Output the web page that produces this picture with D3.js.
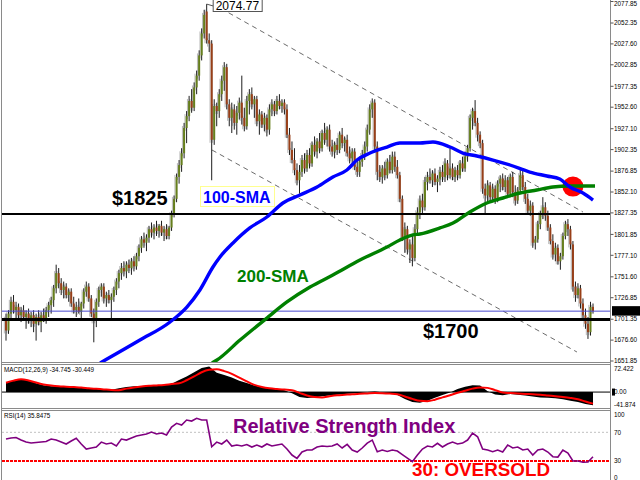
<!DOCTYPE html>
<html><head><meta charset="utf-8">
<script src="https://cdn.jsdelivr.net/npm/d3@7"></script>
<style>html,body{margin:0;padding:0;background:#fff;}svg{display:block;}</style>
</head><body>
<svg id="c" width="640" height="480"></svg>
<script>
// ---- candle data (daily bars) ----
const opens = [
1702,1688,1708,1722,1712,1716,1706,1712,1704,1708,
1700,1706,1696,1704,1698,1706,1702,1712,1718,1724,
1738,1756,1744,1736,1740,1730,1734,1720,1712,1716,
1710,1720,1734,1740,1726,1708,1700,1722,1736,1740,
1726,1730,1724,1728,1736,1746,1756,1762,1758,1766,
1762,1770,1764,1776,1786,1796,1792,1798,1808,1804,
1810,1806,1812,1804,1808,1800,1810,1826,1844,1870,
1884,1898,1928,1942,1960,1952,1976,1990,2014,2040,
2066,2032,2028,1914,1954,1948,1968,1984,2000,1956,
1940,1950,1934,1946,1958,1940,1930,1960,1968,1956,
1962,1936,1944,1932,1940,1926,1950,1956,1948,1960,
1954,1958,1950,1920,1902,1890,1878,1866,1876,1890,
1880,1896,1886,1908,1900,1912,1904,1922,1914,1926,
1906,1900,1908,1902,1920,1910,1914,1898,1892,1900,
1882,1876,1888,1896,1906,1926,1950,1958,1906,1876,
1870,1880,1872,1888,1878,1894,1882,1872,1844,1798,
1808,1784,1790,1774,1808,1828,1842,1834,1864,1870,
1866,1874,1864,1868,1876,1870,1886,1872,1880,1870,
1878,1872,1886,1880,1894,1904,1940,1948,1934,1920,
1910,1856,1848,1860,1846,1856,1844,1862,1868,1858,
1866,1850,1870,1852,1842,1854,1872,1858,1844,1830,
1836,1792,1796,1814,1826,1834,1824,1810,1794,1778,
1786,1770,1776,1800,1814,1808,1790,1740,1730,1738,
1720,1706,1696,1686,1716];
const highs = [
1708,1712,1728,1730,1722,1720,1716,1718,1712,1714,
1710,1712,1708,1712,1710,1714,1716,1722,1728,1742,
1766,1762,1750,1746,1744,1738,1738,1728,1722,1726,
1722,1738,1746,1744,1730,1714,1726,1740,1744,1744,
1734,1736,1732,1740,1750,1760,1768,1770,1770,1772,
1774,1776,1780,1790,1800,1804,1802,1812,1816,1814,
1818,1814,1818,1812,1814,1812,1830,1848,1874,1890,
1904,1934,1948,1966,1974,1982,1996,2020,2046,2068,
2074.77,2040,2032,1962,1958,1974,1990,2006,2004,1962,
1958,1956,1954,1964,1990,1952,1966,1974,1976,1966,
1966,1950,1948,1946,1944,1956,1962,1960,1966,1968,
1962,1962,1956,1928,1912,1904,1886,1884,1896,1898,
1902,1904,1912,1918,1916,1922,1926,1934,1930,1932,
1914,1912,1916,1924,1928,1918,1920,1906,1904,1904,
1890,1894,1902,1912,1932,1956,1963,1962,1912,1884,
1884,1888,1892,1896,1900,1900,1890,1876,1848,1816,
1812,1796,1800,1814,1834,1848,1850,1870,1876,1880,
1878,1880,1872,1882,1884,1892,1890,1904,1886,1882,
1884,1890,1894,1900,1908,1944,1952,1961,1940,1924,
1914,1862,1866,1864,1862,1860,1866,1872,1874,1872,
1870,1874,1876,1860,1858,1880,1878,1864,1850,1842,
1840,1800,1818,1830,1846,1840,1830,1814,1802,1792,
1790,1780,1804,1818,1820,1812,1794,1746,1744,1742,
1726,1714,1704,1722,1720];
const lows = [
1676,1684,1702,1708,1700,1702,1698,1700,1690,1696,
1692,1686,1676,1694,1686,1698,1696,1704,1708,1716,
1732,1738,1730,1726,1726,1722,1716,1708,1704,1708,
1702,1714,1728,1722,1704,1674,1692,1716,1728,1720,
1716,1720,1700,1722,1730,1738,1748,1752,1750,1756,
1754,1758,1760,1770,1780,1786,1782,1792,1798,1796,
1800,1798,1800,1794,1796,1796,1806,1822,1840,1862,
1876,1892,1910,1936,1946,1948,1968,1984,2008,2034,
2028,2018,1866,1908,1930,1940,1960,1972,1950,1930,
1922,1926,1920,1938,1932,1924,1926,1944,1950,1940,
1930,1920,1928,1924,1918,1920,1942,1942,1944,1950,
1946,1944,1916,1896,1886,1872,1860,1850,1870,1874,
1876,1880,1882,1894,1892,1898,1900,1908,1906,1900,
1894,1892,1896,1898,1904,1900,1894,1886,1886,1878,
1870,1870,1882,1890,1900,1920,1940,1900,1866,1864,
1862,1866,1868,1874,1874,1876,1868,1840,1794,1780,
1778,1768,1764,1770,1800,1820,1826,1830,1854,1862,
1858,1860,1852,1860,1864,1864,1866,1868,1866,1864,
1866,1868,1876,1876,1888,1900,1926,1930,1912,1904,
1850,1826,1840,1840,1840,1838,1840,1852,1854,1852,
1846,1846,1846,1836,1838,1850,1854,1838,1826,1824,
1786,1784,1792,1808,1820,1818,1806,1790,1772,1770,
1766,1760,1772,1796,1800,1784,1734,1722,1726,1714,
1700,1690,1678,1682,1708];
const closes = [
1688,1708,1722,1712,1716,1706,1712,1704,1708,1700,
1706,1696,1704,1698,1706,1702,1712,1718,1724,1738,
1756,1744,1736,1740,1730,1734,1720,1712,1716,1710,
1720,1734,1740,1726,1708,1700,1722,1736,1740,1726,
1730,1724,1728,1736,1746,1756,1762,1758,1766,1762,
1770,1764,1776,1786,1796,1792,1798,1808,1804,1810,
1806,1812,1804,1808,1800,1810,1826,1844,1870,1884,
1898,1928,1942,1960,1952,1976,1990,2014,2040,2062,
2032,2028,1914,1954,1948,1968,1984,2000,1956,1940,
1950,1934,1946,1958,1940,1930,1960,1968,1956,1962,
1936,1944,1932,1940,1926,1950,1956,1948,1960,1954,
1958,1950,1920,1902,1890,1878,1866,1876,1890,1880,
1896,1886,1908,1900,1912,1904,1922,1914,1926,1906,
1900,1908,1902,1920,1910,1914,1898,1892,1900,1882,
1876,1888,1896,1906,1926,1950,1958,1906,1876,1870,
1880,1872,1888,1878,1894,1882,1872,1844,1798,1808,
1784,1790,1774,1808,1828,1842,1834,1864,1870,1866,
1874,1864,1868,1876,1870,1886,1872,1880,1870,1878,
1872,1886,1880,1894,1904,1940,1948,1934,1920,1910,
1856,1848,1860,1846,1856,1844,1862,1868,1858,1866,
1850,1870,1852,1842,1854,1872,1858,1844,1830,1836,
1792,1796,1814,1826,1834,1824,1810,1794,1778,1786,
1770,1776,1800,1814,1808,1790,1740,1730,1738,1720,
1706,1696,1686,1716,1710.92];

// ---- moving averages (bar index, value) ----
const sma100Idx = [37.5,53.4,65.4,72.1,77.3,82.5,85.3,90.5,97.2,104,110.4,117.2,124,130.3,135.9,139.9,145.1,151.9,157,165,170.2,177,182.1,187.7,194.1,200.9,208.8,215.6,220.8,224.8,230,234];
const sma100Val = [1649.5,1676.7,1698.1,1715.8,1736.0,1763.2,1775.1,1791.7,1809.5,1822.5,1839.1,1848.6,1858.0,1869.9,1878.2,1890.0,1898.3,1905.4,1910.2,1910.2,1911.4,1905.4,1898.3,1894.8,1890.0,1884.1,1875.8,1871.1,1867.5,1858.0,1850.9,1842.6];
const sma200Idx = [82.1,84.1,93.3,104.0,112.0,121.2,130.3,141.1,151.9,157.0,162.2,165.0,173.0,178.2,184.9,191.7,198.1,204.9,211.6,218.0,224.8,234.8];
const sma200Val = [1649.5,1653.0,1676.7,1702.8,1721.8,1739.5,1753.7,1771.5,1786.9,1795.2,1801.2,1802.3,1809.5,1815.4,1828.4,1839.1,1845.0,1850.9,1854.5,1858.0,1859.2,1859.2];

// ---- MACD (sampled every 3 bars) ----
const macdHist = [23.6,31,34.5,31,23,18,15,15,15,14,12,10.5,8,6,6,10,13,15,16,17,18,19,22,32,41,52,63,67,51,45,38,30,23.6,17,12.5,10,8,5,-3,-13,-15.5,-14,-11,-9,-7,-5.3,-4,-2.6,0,1.6,-0.5,-2.6,-8,-18,-26,-28,-23,-15,-8,-1,8,14,18,17,2,-6.5,-8.5,-5.3,-7,-9,-11.5,-14.2,-15,-16,-19,-22.5,-26,-31.5,-34.745];
const macdSignal = [24.5,30,33.5,30.5,25,20,17,15,14,13,12,10,8.5,7,5.5,5,9,12,14.5,16.5,17.5,18.7,21,23,31,41,52,58.5,60,55,48,38,28,19,13.5,10,8,6.5,5,-2,-9,-13,-14,-11,-8.5,-7,-5.5,-4.5,-3.5,-2.6,-3,-4,-5.5,-11.6,-18,-23,-24,-20,-14,-8.5,-2,3.5,9,12,11,5,-1,-2.6,-4,-5,-5.5,-7,-9,-11,-13,-15.5,-19,-25,-30.449];

// ---- RSI(14) (sampled every 2 bars) ----
const rsiValues = [60.6,62,62.7,59.2,56.4,55,55.7,56.4,57.1,60.6,59.2,56.4,53.7,57.8,61.6,53.7,46.7,48.1,49.5,56.4,53.7,55,50.9,60.6,59.2,62,64.8,66.2,67.6,70.4,67.6,69,66.2,77.4,82.5,80.1,87.1,85.7,89.5,87.1,87.1,49.9,56.4,53.7,59.2,50.9,52.3,50.9,53,49.5,52.3,49.5,53.7,50.9,52.3,53.7,46.7,38.3,33.7,42.5,45.3,45.3,49.5,50.9,50.2,50.9,53.7,48.1,53.2,45.3,42.5,48.1,55,59.2,42.9,45.3,43.2,45.3,43.9,39,34.1,29,38.3,46.7,50.9,49.5,54.6,49.5,53.7,56.4,53.7,55,59.2,69,63.8,46.7,45.3,42.9,45.3,42.5,52.3,48.1,49.5,45.3,46.7,38.3,45.3,46.7,42.5,36,35.5,45.3,41.1,30,30,28.2,28.6,35.85];

// ---- axes / annotations ----
const priceTicks = [2077.85,2052.35,2027.60,2002.85,1977.35,1952.60,1927.10,1902.35,1876.85,1852.10,1827.35,1801.85,1777.10,1751.60,1726.85,1701.35,1676.60,1651.85];
const macdTicks = [72.422, 0, -41.874];
const rsiTicks = [100, 70, 30, 0];
const supportLevels = [1826, 1701];
const lastPrice = 1710.92;
const peakIdx = 80, peakPrice = 2074.77;
const channelUpper = [[82.5, 2074.9], [230, 1828.4]];
const channelLower = [[82.1, 1901.9], [227.6, 1662.5]];
const crossIdx = 226, crossPrice = 1858.5;

// ---------------------------------------------------------------
const svg = d3.select('#c');
const FONT = '"Liberation Sans", Arial, sans-serif';
const N = Math.min(opens.length, highs.length, lows.length, closes.length);
const LEFT = 2, RIGHT = 610.5;
const xS = d3.scaleLinear().domain([0, 234]).range([6, 593]);
const yP = d3.scaleLinear().domain([1651.85, 2077.85]).range([361, 1.5]);
const yM = d3.scaleLinear().domain([-41.874, 72.422]).range([408, 364.5]);
const yR = d3.scaleLinear().domain([0, 100]).range([482.5, 410.8]);

const defs = svg.append('defs');
defs.append('clipPath').attr('id','clipMain').append('rect').attr('x',LEFT).attr('y',0).attr('width',RIGHT-LEFT).attr('height',362);
defs.append('clipPath').attr('id','clipMacd').append('rect').attr('x',LEFT).attr('y',364.5).attr('width',RIGHT-LEFT).attr('height',43.5);
defs.append('clipPath').attr('id','clipRsi').append('rect').attr('x',LEFT).attr('y',410.5).attr('width',RIGHT-LEFT).attr('height',70);

svg.append('rect').attr('width',640).attr('height',480).attr('fill','#fff');

// ---- main panel ----
const gMain = svg.append('g').attr('clip-path','url(#clipMain)');

// channel lines
[channelUpper, channelLower].forEach(c => {
  gMain.append('line')
    .attr('x1', xS(c[0][0])).attr('y1', yP(c[0][1]))
    .attr('x2', xS(c[1][0])).attr('y2', yP(c[1][1]))
    .attr('stroke','#5a5a5a').attr('stroke-width',0.9).attr('stroke-dasharray','5,4');
});

// candles
const idx = d3.range(N);
const bull = i => closes[i] >= opens[i];
gMain.append('g').selectAll('rect').data(idx).join('rect')
  .attr('x', i => xS(i) - 2.2).attr('width', 1.1)
  .attr('y', i => yP(Math.max(opens[i], closes[i])) - 2)
  .attr('height', i => Math.abs(yP(opens[i]) - yP(closes[i])) + 5)
  .attr('fill', '#bdbdbd');
gMain.append('g').selectAll('line').data(idx).join('line')
  .attr('x1', i => xS(i)).attr('x2', i => xS(i))
  .attr('y1', i => yP(highs[i])).attr('y2', i => yP(lows[i]))
  .attr('stroke', '#1e1e1e').attr('stroke-width', 1);
gMain.append('g').selectAll('rect').data(idx).join('rect')
  .attr('x', i => xS(i) - 1).attr('width', 2)
  .attr('y', i => yP(Math.max(opens[i], closes[i])))
  .attr('height', i => Math.max(1, Math.abs(yP(opens[i]) - yP(closes[i]))))
  .attr('fill', i => bull(i) ? '#667f1c' : '#983f18');

// horizontal levels
gMain.append('line').attr('x1',LEFT).attr('x2',RIGHT).attr('y1',yP(lastPrice)).attr('y2',yP(lastPrice))
  .attr('stroke','#4a4ad0').attr('stroke-width',1);
gMain.append('line').attr('x1',LEFT).attr('x2',RIGHT).attr('y1',yP(supportLevels[0])).attr('y2',yP(supportLevels[0]))
  .attr('stroke','#000').attr('stroke-width',2);
gMain.append('line').attr('x1',LEFT).attr('x2',RIGHT).attr('y1',yP(supportLevels[1])).attr('y2',yP(supportLevels[1]))
  .attr('stroke','#000').attr('stroke-width',3.2);

// crossover marker
gMain.append('ellipse').attr('cx', xS(crossIdx)).attr('cy', yP(crossPrice)).attr('rx',10.5).attr('ry',10)
  .attr('fill','#f00');

// moving averages
const smaLine = d3.line().x(d => xS(d[0])).y(d => yP(d[1])).curve(d3.curveMonotoneX);
gMain.append('path').attr('d', smaLine(d3.zip(sma200Idx, sma200Val)))
  .attr('fill','none').attr('stroke','#008000').attr('stroke-width',3.4);
gMain.append('path').attr('d', smaLine(d3.zip(sma100Idx, sma100Val)))
  .attr('fill','none').attr('stroke','#0000ff').attr('stroke-width',3.4);

// peak label
const px = xS(peakIdx), py = yP(peakPrice);
svg.append('line').attr('x1',px).attr('y1',py).attr('x2',px+7).attr('y2',py+2).attr('stroke','#555').attr('stroke-width',1);
svg.append('rect').attr('x',px+6.5).attr('y',-1).attr('width',49).attr('height',12.5)
  .attr('fill','#fff').attr('stroke','#555').attr('stroke-width',1);
svg.append('text').attr('x',px+9).attr('y',9.8).attr('font-family',FONT).attr('font-size',12)
  .attr('fill','#000').text(peakPrice.toFixed(2));

// annotations
svg.append('text').attr('x',112).attr('y',205).attr('font-family',FONT).attr('font-weight','bold')
  .attr('font-size',20).attr('fill','#000').text('$1825');
svg.append('text').attr('x',423).attr('y',338).attr('font-family',FONT).attr('font-weight','bold')
  .attr('font-size',20).attr('fill','#000').text('$1700');
svg.append('rect').attr('x',200.5).attr('y',186.5).attr('width',74).attr('height',20)
  .attr('fill','#fff').attr('stroke','#ffff90').attr('stroke-width',1);
svg.append('text').attr('x',203).attr('y',203).attr('font-family',FONT).attr('font-weight','bold')
  .attr('font-size',16).attr('fill','#0000ff').text('100-SMA');
svg.append('text').attr('x',237).attr('y',282).attr('font-family',FONT).attr('font-weight','bold')
  .attr('font-size',17).attr('fill','#008000').text('200-SMA');

// ---- MACD panel ----
const gMacd = svg.append('g').attr('clip-path','url(#clipMacd)');
const mx = k => xS(k * 3);
gMacd.append('path')
  .attr('d', d3.area().x((d,k) => mx(k)).y0(yM(0)).y1(d => yM(d))(macdHist))
  .attr('fill','#000');
gMacd.append('line').attr('x1',LEFT).attr('x2',RIGHT).attr('y1',yM(0)).attr('y2',yM(0)).attr('stroke','#000').attr('stroke-width',1);
gMacd.append('path')
  .attr('d', d3.line().x((d,k) => mx(k)).y(d => yM(d)).curve(d3.curveMonotoneX)(macdSignal))
  .attr('fill','none').attr('stroke','#f00').attr('stroke-width',2);
svg.append('text').attr('x',4).attr('y',372).attr('font-family',FONT).attr('font-size',6.3)
  .attr('fill','#000').text('MACD(12,26,9) -34.745 -30.449');

// ---- RSI panel ----
const gRsi = svg.append('g').attr('clip-path','url(#clipRsi)');
gRsi.append('line').attr('x1',LEFT).attr('x2',RIGHT).attr('y1',yR(70)).attr('y2',yR(70))
  .attr('stroke','#c0c0c0').attr('stroke-width',1).attr('stroke-dasharray','2,2');
gRsi.append('line').attr('x1',LEFT).attr('x2',RIGHT).attr('y1',yR(30)).attr('y2',yR(30))
  .attr('stroke','#f00').attr('stroke-width',2).attr('stroke-dasharray','3,1');
const rx = k => xS(k * 2);
gRsi.append('path')
  .attr('d', d3.line().x((d,k) => rx(k)).y(d => yR(d))(rsiValues))
  .attr('fill','none').attr('stroke','#800080').attr('stroke-width',1.6);
svg.append('text').attr('x',4).attr('y',418).attr('font-family',FONT).attr('font-size',6.3)
  .attr('fill','#000').text('RSI(14) 35.8475');
svg.append('text').attr('x',233).attr('y',432.5).attr('font-family',FONT).attr('font-weight','bold')
  .attr('font-size',20).attr('fill','#800080').text('Relative Strength Index');
svg.append('text').attr('x',412).attr('y',476.2).attr('font-family',FONT).attr('font-weight','bold')
  .attr('font-size',17.5).attr('textLength',138).attr('lengthAdjust','spacingAndGlyphs')
  .attr('fill','#f00').text('30: OVERSOLD');

// ---- frame ----
const frame = svg.append('g').attr('stroke','#8a8a8a').attr('stroke-width',1);
frame.append('line').attr('x1',LEFT-0.5).attr('x2',LEFT-0.5).attr('y1',0).attr('y2',480);
frame.append('line').attr('x1',RIGHT).attr('x2',RIGHT).attr('y1',0).attr('y2',480);
[362.5, 364.5, 408.5, 410.5].forEach(y => {
  frame.append('line').attr('x1',LEFT-0.5).attr('x2',RIGHT).attr('y1',y).attr('y2',y);
});

// ---- right axes ----
const axG = svg.append('g').attr('font-family',FONT).attr('font-size',6.4).attr('fill','#000');
priceTicks.forEach(t => {
  const y = yP(t);
  svg.append('line').attr('x1',RIGHT).attr('x2',RIGHT+3).attr('y1',y).attr('y2',y).attr('stroke','#555');
  axG.append('text').attr('x',614).attr('y',Math.max(3.5, y)).attr('dy','0.35em').text(t.toFixed(2));
});
svg.append('rect').attr('x',612).attr('y',yP(lastPrice)-5).attr('width',28).attr('height',9.5).attr('fill','#000');
axG.append('text').attr('x',614).attr('y',yP(lastPrice)).attr('dy','0.35em').attr('fill','#fff').text(lastPrice.toFixed(2));

macdTicks.forEach(t => {
  let y = yM(t);
  y = Math.max(369, Math.min(404.5, y));
  axG.append('text').attr('x',614).attr('y',y).attr('dy','0.35em').text(t === 0 ? '0.00' : t.toFixed(3));
});
svg.append('rect').attr('x',612).attr('y',yM(0)-3.5).attr('width',3).attr('height',7).attr('fill','#000');
rsiTicks.forEach(t => {
  let y = yR(t);
  y = Math.max(415, Math.min(477.5, y));
  axG.append('text').attr('x',614).attr('y',y).attr('dy','0.35em').text(String(t));
});
</script>
</body></html>
